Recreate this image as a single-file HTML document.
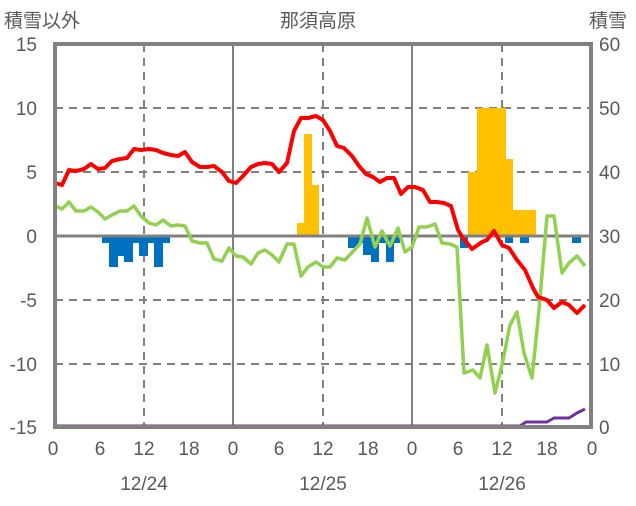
<!DOCTYPE html>
<html><head><meta charset="utf-8"><style>
body{margin:0;background:#fff;}
svg text{font-family:"Liberation Sans","Noto Sans CJK JP",sans-serif;fill:#595959;font-size:19px;}
</style></head><body>
<svg width="636" height="501" xmlns="http://www.w3.org/2000/svg">
<rect width="636" height="501" fill="#fff"/>
<g stroke="#808080" stroke-width="2" stroke-dasharray="8,6">
<line x1="55" y1="108" x2="591" y2="108"/><line x1="55" y1="172" x2="591" y2="172"/>
<line x1="55" y1="300" x2="591" y2="300"/><line x1="55" y1="364" x2="591" y2="364"/>
<line x1="144" y1="44" x2="144" y2="427"/><line x1="323" y1="44" x2="323" y2="427"/><line x1="502" y1="44" x2="502" y2="427"/>
</g>
<g stroke="#808080" stroke-width="2">
<line x1="233" y1="44" x2="233" y2="427"/><line x1="412" y1="44" x2="412" y2="427"/>
</g>
<g fill="#FFC000">
<rect x="297" y="223" width="7" height="13"/><rect x="304" y="134" width="8" height="102"/><rect x="312" y="185" width="7" height="51"/>
<rect x="468" y="172" width="9" height="64"/><rect x="477" y="108" width="29" height="128"/><rect x="506" y="159" width="7" height="77"/><rect x="513" y="210" width="23" height="26"/>
</g>
<g fill="#0070C0">
<rect x="102" y="236" width="7" height="7"/><rect x="109" y="236" width="9" height="31"/><rect x="118" y="236" width="6" height="20"/><rect x="124" y="236" width="9" height="26"/><rect x="133" y="236" width="6" height="7"/><rect x="139" y="236" width="9" height="20"/><rect x="148" y="236" width="6" height="7"/><rect x="154" y="236" width="9" height="31"/><rect x="163" y="236" width="7" height="7"/>
<rect x="348" y="236" width="10" height="12"/><rect x="358" y="236" width="5" height="7"/><rect x="363" y="236" width="8" height="19"/><rect x="371" y="236" width="8" height="26"/><rect x="379" y="236" width="7" height="7"/><rect x="386" y="236" width="8" height="26"/><rect x="394" y="236" width="6" height="7"/>
<rect x="460" y="236" width="8" height="12"/><rect x="505" y="236" width="8" height="7"/><rect x="520" y="236" width="9" height="7"/><rect x="572" y="236" width="9" height="7"/>
</g>
<line x1="55" y1="236" x2="591" y2="236" stroke="#808080" stroke-width="3"/>
<polyline fill="none" stroke="#92D050" stroke-width="3.5" stroke-linejoin="round" points="55,206 62,209 69,202 76,211 84,211 91,207 98,212 105,219 112,215 120,211 127,211 134,206 141,216 149,223 156,225 163,220 171,226 178,225 185,226 192,241 200,243 207,243 214,259 222,261 229,248 236,256 243,257 251,264 258,253 265,250 272,255 279,262 287,244 294,244 301,276 308,267 316,262 323,267 330,267 337,258 345,260 360,244 367,218 375,247 382,231 390,246 398,228 405,252 412,247 419,227 427,227 435,224 442,243 450,244 457,247 464,373 473,370 480,378 487,345 495,393 502,365 510,325 517,312 524,353 532,378 539,310 547,216 554,216 562,273 569,263 577,256 585,266"/>
<polyline fill="none" stroke="#FF0000" stroke-width="4" stroke-linejoin="round" points="55,183 62,185 69,170 76,171 84,169 91,164 98,169 105,168 112,161 120,159 127,158 134,149 141,150 149,149 156,150 163,153 171,155 178,156 185,152 192,162 200,167 207,167 214,166 222,172 229,181 236,183 243,176 251,167 258,164 265,163 272,164 279,172 287,163 294,131 301,118 308,118 316,116 323,120 330,131 337,146 344,148 352,156 359,166 366,174 373,177 380,182 387,178 394,178 401,194 408,187 415,187 423,190 430,202 437,202 444,203 451,206 458,230 463,238 472,249 482,242 487,240 494,231 502,245 509,248 517,260 525,270 533,288 538,297 547,300 554,308 562,302 569,305 577,313 585,305"/>
<polyline fill="none" stroke="#7030A0" stroke-width="3" stroke-linejoin="round" points="55,426 520,426 526,422 547,422 554,418 569,418 577,413 585,409"/>
<rect x="55" y="44" width="536" height="383" fill="none" stroke="#808080" stroke-width="4"/>
<g text-anchor="end">
<text x="37" y="51">15</text><text x="37" y="115">10</text><text x="37" y="179">5</text><text x="37" y="243">0</text><text x="37" y="307">-5</text><text x="37" y="371">-10</text><text x="37" y="434">-15</text>
</g>
<g text-anchor="start">
<text x="599" y="51">60</text><text x="599" y="115">50</text><text x="599" y="179">40</text><text x="599" y="243">30</text><text x="599" y="307">20</text><text x="599" y="371">10</text><text x="599" y="434">0</text>
</g>
<g text-anchor="middle">
<text x="53" y="455">0</text><text x="100" y="455">6</text><text x="144" y="455">12</text><text x="189" y="455">18</text><text x="233" y="455">0</text><text x="279" y="455">6</text><text x="323" y="455">12</text><text x="368" y="455">18</text><text x="412" y="455">0</text><text x="458" y="455">6</text><text x="502" y="455">12</text><text x="547" y="455">18</text><text x="592" y="455">0</text>
<text x="144" y="490">12/24</text><text x="323" y="490">12/25</text><text x="502" y="490">12/26</text>
<text x="318" y="27">那須高原</text>
</g>
<text x="4" y="27">積雪以外</text>
<text x="589" y="27">積雪</text>
</svg>
</body></html>
